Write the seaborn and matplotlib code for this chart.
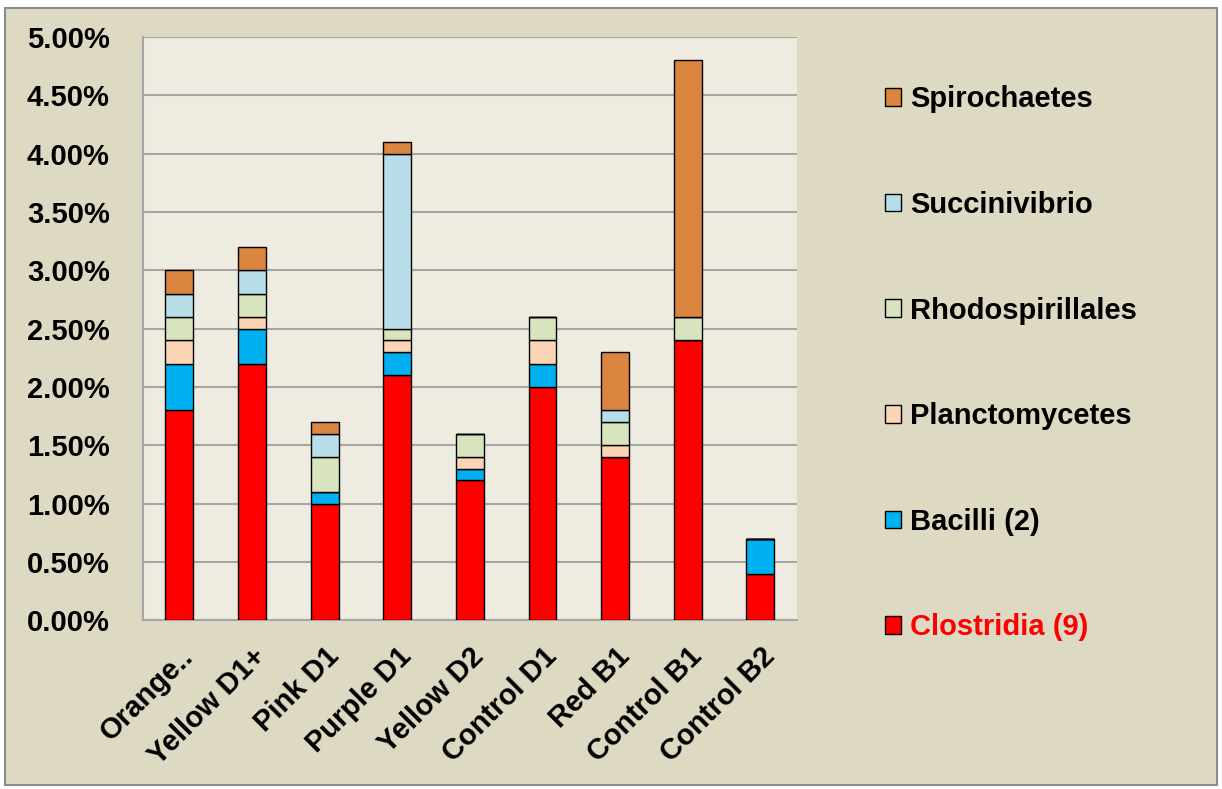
import numpy as np
import pandas as pd
import matplotlib
matplotlib.use("Agg")
import matplotlib.pyplot as plt
from matplotlib.patches import Rectangle, Patch
import seaborn as sns

# data (percent)
samples = ["Orange..", "Yellow D1+", "Pink D1", "Purple D1", "Yellow D2",
           "Control D1", "Red B1", "Control B1", "Control B2"]
clostridia = [1.8, 2.2, 1.0, 2.1, 1.2, 2.0, 1.4, 2.4, 0.4]
bacilli = [0.4, 0.3, 0.1, 0.2, 0.1, 0.2, 0.0, 0.0, 0.3]
planctomycetes = [0.2, 0.1, 0.0, 0.1, 0.1, 0.2, 0.1, 0.0, 0.0]
rhodospirillales = [0.2, 0.2, 0.3, 0.1, 0.2, 0.2, 0.2, 0.2, 0.0]
succinivibrio = [0.2, 0.2, 0.2, 1.5, 0.0, 0.0, 0.1, 0.0, 0.0]
spirochaetes = [0.2, 0.2, 0.1, 0.1, 0.0, 0.0, 0.5, 2.2, 0.0]

series = ["Clostridia (9)", "Bacilli (2)", "Planctomycetes", "Rhodospirillales",
          "Succinivibrio", "Spirochaetes"]
colors = ["#FF0000", "#00B0F0", "#FCD5B5", "#D7E4BD", "#B7DEE8", "#DA8540"]

df = pd.DataFrame({"Sample": samples,
                   "Clostridia (9)": clostridia,
                   "Bacilli (2)": bacilli,
                   "Planctomycetes": planctomycetes,
                   "Rhodospirillales": rhodospirillales,
                   "Succinivibrio": succinivibrio,
                   "Spirochaetes": spirochaetes})

sns.set_theme(style="white")
plt.rcParams["font.family"] = ["Liberation Sans", "DejaVu Sans"]
plt.rcParams["font.weight"] = "bold"
plt.rcParams["text.color"] = "black"
plt.rcParams["xtick.color"] = "black"
plt.rcParams["ytick.color"] = "black"

beige = "#DDD9C3"
fig = plt.figure(figsize=(12.22, 7.89), dpi=100, facecolor="white")
fig.patches.append(Rectangle((0.004, 0.005), 0.992, 0.985, transform=fig.transFigure,
                             facecolor=beige, edgecolor="#8C8C8C", linewidth=1.5, zorder=-10))
ax = fig.add_axes([0.117, 0.214, 0.535, 0.739])
ax.set_facecolor("#EEECE1")

# stacked bars, one seaborn call per taxon
bottom = np.zeros(len(samples))
for name, col in zip(series, colors):
    sns.barplot(data=df, x="Sample", y=name, color=col, saturation=1, width=0.385,
                bottom=bottom, edgecolor="black", linewidth=1.0, ax=ax, zorder=3)
    bottom = bottom + df[name].to_numpy()

ax.set_ylim(0, 5.0)
ax.set_xlim(-0.5, len(samples) - 0.5)
ax.set_yticks(np.arange(0, 5.01, 0.5))
ax.set_yticklabels([f"{v:.2f}%" for v in np.arange(0, 5.01, 0.5)], fontsize=21, fontweight="bold")
ax.yaxis.grid(True, color="#A6A6A6", linewidth=1.5, zorder=0)
ax.set_axisbelow(True)
ax.set_xlabel("")
ax.set_ylabel("")

# category labels at centres, tick marks between categories
ax.set_xticks(range(len(samples)))
ax.set_xticklabels(samples, rotation=45, ha="right", va="top", rotation_mode="anchor",
                   fontsize=21, fontweight="bold")
ax.tick_params(axis="x", length=0, pad=16)
ax.set_xticks(np.arange(-0.5, len(samples), 1.0), minor=True)
ax.tick_params(axis="x", which="minor", length=10, color="#A6A6A6", width=1.5, direction="out")
ax.tick_params(axis="y", length=10, color="#A6A6A6", width=1.5, direction="out", pad=14)

for s in ["top", "right"]:
    ax.spines[s].set_visible(False)
for s in ["left", "bottom"]:
    ax.spines[s].set_color("#A6A6A6")
    ax.spines[s].set_linewidth(1.5)

handles = [Patch(facecolor=c, edgecolor="black", linewidth=1.0) for c in colors][::-1]
leg = fig.legend(handles, series[::-1], loc="upper left", bbox_to_anchor=(0.703, 0.925),
                 frameon=False, prop={"weight": "bold", "size": 21},
                 handlelength=0.55, handleheight=0.55, handletextpad=0.3,
                 labelspacing=2.66)
leg.get_texts()[-1].set_color("red")

fig.savefig("out.png", dpi=100, facecolor="white")
